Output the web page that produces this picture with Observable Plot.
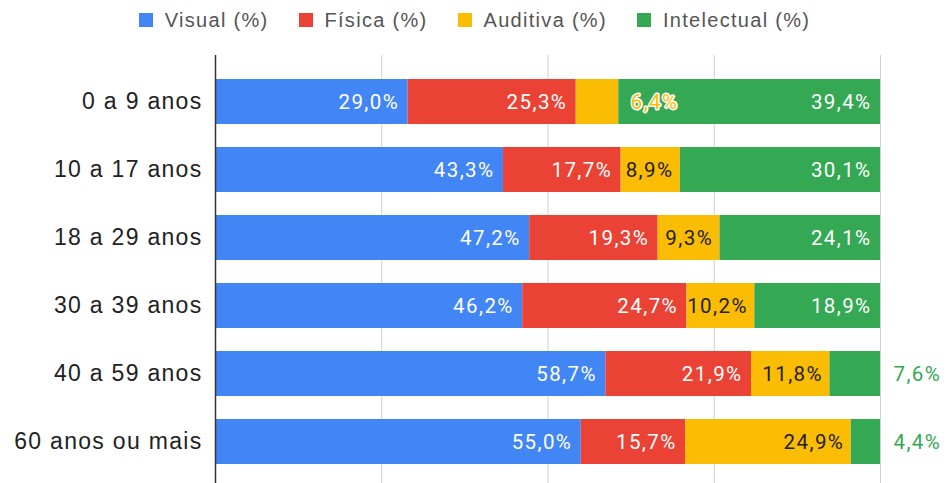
<!DOCTYPE html>
<html>
<head>
<meta charset="utf-8">
<script src="https://cdn.jsdelivr.net/npm/d3@7"></script>
<script src="https://cdn.jsdelivr.net/npm/@observablehq/plot@0.6"></script>
<style>
  body { margin: 0; background: #fff; }
  #legend { height: 40px; display: flex; justify-content: center; align-items: center; font-family: "Liberation Sans", Arial, sans-serif; font-size: 20px; letter-spacing: 1.3px; color: #555; padding-left: 0px; }
  #legend .item { display: flex; align-items: center; margin: 0 15px; }
  #legend .sw { width: 14px; height: 14px; margin-right: 12px; }
  #chart g[aria-label="y-axis tick label"] text { letter-spacing: 1.3px; }
  #chart g[aria-label="text"] text { letter-spacing: 1.4px; }
</style>
</head>
<body>
<div id="legend"></div>
<div id="chart"></div>
<script>
const ages = ["0 a 9 anos", "10 a 17 anos", "18 a 29 anos", "30 a 39 anos", "40 a 59 anos", "60 anos ou mais"];
const seriesNames = ["Visual (%)", "Física (%)", "Auditiva (%)", "Intelectual (%)"];
const seriesColors = ["#4285F4", "#EA4335", "#FBBC04", "#34A853"];
const visual = [29.0, 43.3, 47.2, 46.2, 58.7, 55.0];
const fisica = [25.3, 17.7, 19.3, 24.7, 21.9, 15.7];
const auditiva = [6.4, 8.9, 9.3, 10.2, 11.8, 24.9];
const intelectual = [39.4, 30.1, 24.1, 18.9, 7.6, 4.4];

const cols = [visual, fisica, auditiva, intelectual];
const data = [];
ages.forEach((age, i) => {
  seriesNames.forEach((s, j) => {
    const v = cols[j][i];
    data.push({age, series: s, value: v, label: v.toFixed(1).replace(".", ",") + "%"});
  });
});

// legend
const legend = document.getElementById("legend");
seriesNames.forEach((s, j) => {
  const it = document.createElement("div");
  it.className = "item";
  it.innerHTML = `<div class="sw" style="background:${seriesColors[j]}"></div><span>${s}</span>`;
  legend.appendChild(it);
});

const small = d => d.value < 8.5;
const stackOpts = {x: "value", y: "age", z: "series", order: seriesNames, offset: "normalize"};
const labelFont = {fontSize: 20.5, fontFamily: "Roboto, sans-serif"};

const chart = Plot.plot({
  width: 949,
  height: 443,
  marginLeft: 215,
  marginRight: 69,
  marginTop: 15,
  marginBottom: 0,
  style: {fontFamily: "'Liberation Sans', Arial, sans-serif", background: "white"},
  x: {domain: [0, 1], axis: null},
  y: {domain: ages, paddingInner: 0.34, paddingOuter: 0.17, insetTop: 12, insetBottom: 8, label: null, tickSize: 0, tickPadding: 15},
  color: {domain: seriesNames, range: seriesColors},
  marks: [
    Plot.ruleX([0.25, 0.5, 0.75, 1], {stroke: "#cfcfcf", strokeWidth: 1}),
    Plot.barX(data, Plot.stackX({...stackOpts, fill: "series"})),
    // white labels inside
    Plot.text(data, Plot.stackX2({...stackOpts, ...labelFont,
      text: d => (!small(d) && d.series !== "Auditiva (%)") ? d.label : null,
      fill: "white", textAnchor: "end", dx: -9})),
    // dark labels inside yellow
    Plot.text(data, Plot.stackX2({...stackOpts, ...labelFont,
      text: d => (!small(d) && d.series === "Auditiva (%)") ? d.label : null,
      fill: "#222", textAnchor: "end", dx: -7})),
    // small yellow label placed after its segment
    Plot.text(data, Plot.stackX2({...stackOpts, ...labelFont,
      text: d => (small(d) && d.series === "Auditiva (%)") ? d.label : null,
      fill: "#FBBC04", stroke: "white", strokeWidth: 3, paintOrder: "stroke", textAnchor: "start", dx: 12})),
    // small green labels outside the bar
    Plot.text(data, Plot.stackX2({...stackOpts, ...labelFont,
      text: d => (small(d) && d.series === "Intelectual (%)") ? d.label : null,
      fill: "#34A853", textAnchor: "start", dx: 13})),
    Plot.ruleX([0], {stroke: "#333", strokeWidth: 1.5}),
    Plot.axisY({tickSize: 0, tickPadding: 13, fontSize: 23, fontFamily: "'Liberation Sans', Arial, sans-serif", fill: "#222", label: null})
  ]
});
document.getElementById("chart").appendChild(chart);
</script>
</body>
</html>
